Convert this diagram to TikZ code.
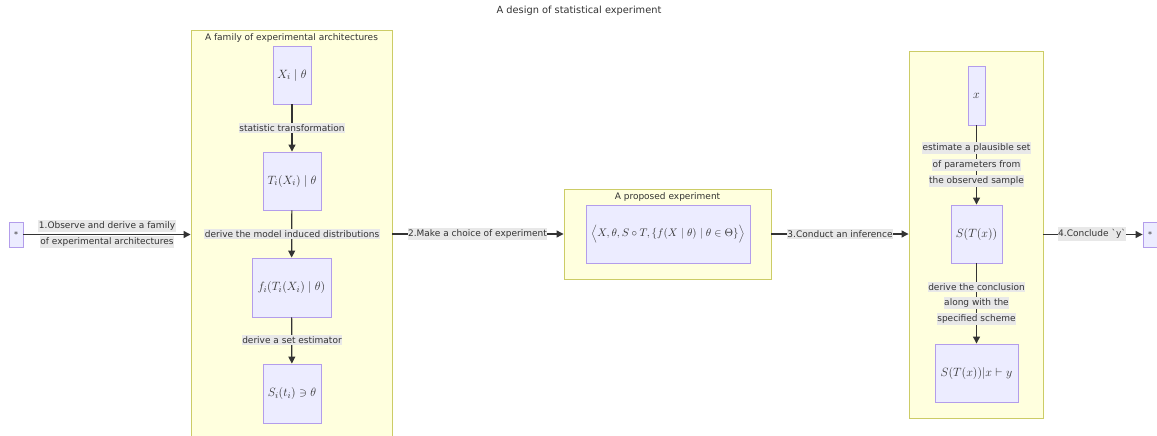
\documentclass[tikz,border=0pt]{standalone}
\usepackage{fontspec}
\setmainfont{DejaVu Sans}
\usetikzlibrary{arrows.meta}

\definecolor{clfill}{HTML}{FFFFDE}
\definecolor{clstroke}{HTML}{CCCC66}
\definecolor{nodefill}{HTML}{ECECFF}
\definecolor{nodestroke}{HTML}{B39DEB}
\definecolor{edgec}{HTML}{333333}
\definecolor{txt}{HTML}{333333}
\definecolor{lblbg}{HTML}{E8E8E8}

\newcommand{\lblfont}{\fontsize{9}{11}\selectfont}
\newcommand{\mathsz}{\fontsize{12.5}{14}\selectfont}

\tikzset{
  cluster/.style={draw=clstroke, fill=clfill, line width=0.9pt, inner sep=0pt},
  cltitle/.style={font=\lblfont, text=txt, inner sep=1pt},
  box/.style={draw=nodestroke, fill=nodefill, line width=0.9pt, inner sep=0pt,
    text=txt, font=\mathsz},
  terminal/.style={box, minimum width=14, minimum height=25, font=\fontsize{8}{9}\selectfont},
  elabel/.style={fill=lblbg, text=txt, font=\lblfont, inner xsep=0.5pt, inner ysep=2pt},
  edge/.style={draw=edgec, line width=1.2pt, -{Triangle[length=7pt,width=7pt]}},
}

\begin{document}
\begin{tikzpicture}[x=1pt,y=-1pt]
\useasboundingbox (0,0) rectangle (1157,436);
\clip (0,0) rectangle (1157,436);
\fill[white] (0,0) rectangle (1157,436);

% title
\node[font=\fontsize{9.8}{12}\selectfont, text=txt] (title) at (579,11) {A design of statistical experiment};

% clusters
\node[cluster, minimum width=201, minimum height=412] (famcl) at (291.5,236) {};
\node[cltitle] (famlbl) at (291.5,38) {A family of experimental architectures};

\node[cluster, minimum width=207, minimum height=90] (propcl) at (667.5,234) {};
\node[cltitle] (proplbl) at (667.5,197) {A proposed experiment};

\node[cluster, minimum width=134, minimum height=367] (infcl) at (976,234.5) {};

% terminals
\node[terminal] (start) at (16,234.5) {*};
\node[terminal] (finish) at (1150,234.5) {*};

% nodes of the family of architectures
\node[box, minimum width=38, minimum height=58] (xi) at (292,75) {$X_i \mid \theta$};
\node[box, minimum width=58, minimum height=58] (ti) at (292,181) {$T_i(X_i) \mid \theta$};
\node[box, minimum width=79, minimum height=59] (fi) at (291.5,287.5) {$f_i(T_i(X_i) \mid \theta)$};
\node[box, minimum width=58, minimum height=59] (si) at (292,393.5) {$S_i(t_i) \ni \theta$};

% proposed experiment
\node[box, minimum width=164, minimum height=58, font=\fontsize{11.3}{14}\selectfont] (tuple) at (668,234)
  {$\Bigl\langle X, \theta, S \circ T, \{f(X \mid \theta) \mid \theta \in \Theta\}\Bigr\rangle$};

% inference
\node[box, minimum width=17, minimum height=59] (xobs) at (976.5,95.5) {$x$};
\node[box, minimum width=51, minimum height=58] (stx) at (976.5,234) {$S(T(x))$};
\node[box, minimum width=83, minimum height=58] (concl) at (976.5,373) {$S(T(x))|x \vdash y$};

% connectors
\draw[edge] (start) -- (start -| famcl.west);
\draw[edge] (propcl -| famcl.east) -- (propcl.west);
\draw[edge] (propcl.east) -- (propcl -| infcl.west);
\draw[edge] (finish -| infcl.east) -- (finish.west);
\draw[edge] (xi) -- (ti);
\draw[edge] (ti) -- (fi);
\draw[edge] (fi) -- (si);
\draw[edge] (xobs) -- (stx);
\draw[edge] (stx) -- (concl);

% connector labels
\node[elabel] (l1a) at (107,226) {1.Observe and derive a family};
\node[elabel] (l1b) at (107,242) {of experimental architectures};
\node[elabel] (l2) at (477.5,234) {2.Make a choice of experiment};
\node[elabel] (l3) at (840,234) {3.Conduct an inference};
\node[elabel] (l4) at (1092,234) {4.Conclude \textasciigrave y\textasciigrave};

\node[elabel] (lt) at (292,128) {statistic transformation};
\node[elabel] (lf) at (292,234) {derive the model induced distributions};
\node[elabel] (ls) at (292,340) {derive a set estimator};

\node[elabel] (le1) at (976.5,148) {estimate a plausible set};
\node[elabel] (le2) at (976.5,165) {of parameters from};
\node[elabel] (le3) at (976.5,181) {the observed sample};

\node[elabel] (lc1) at (976.5,287) {derive the conclusion};
\node[elabel] (lc2) at (976.5,303) {along with the};
\node[elabel] (lc3) at (976.5,319) {specified scheme};
\end{tikzpicture}
\end{document}
